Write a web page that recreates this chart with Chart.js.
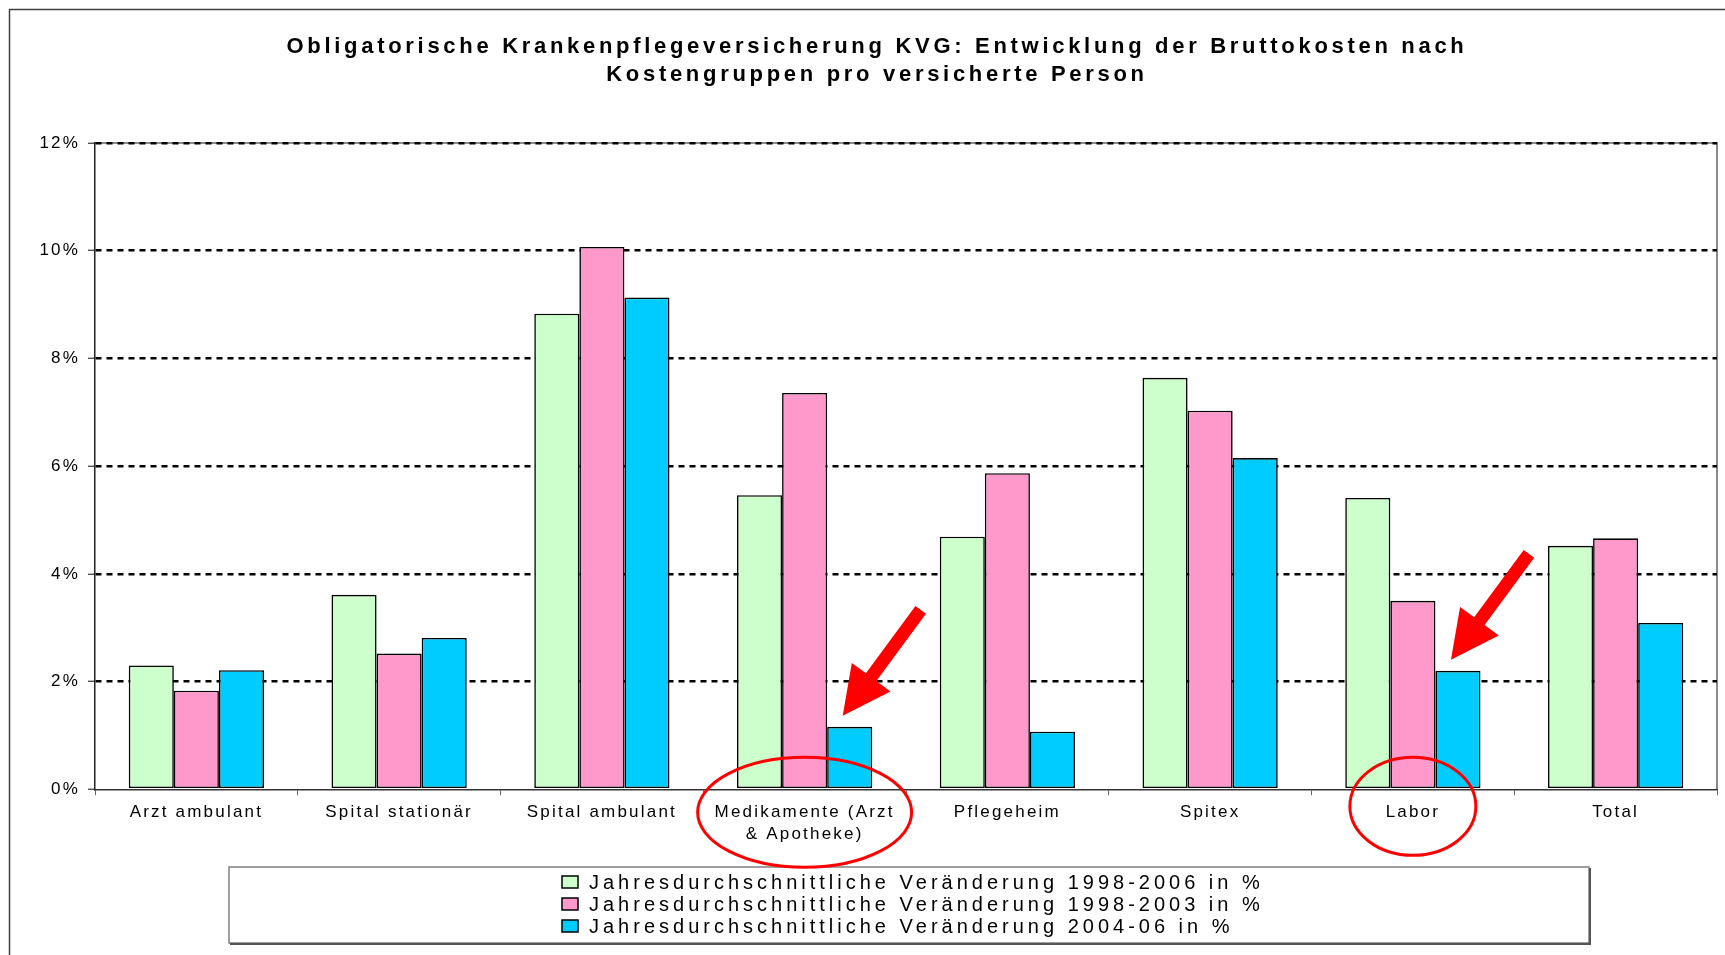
<!DOCTYPE html>
<html>
<head>
<meta charset="utf-8">
<script src="https://cdn.jsdelivr.net/npm/chart.js@4"></script>
<style>
  html, body { margin: 0; padding: 0; background: #fff; }
  #wrap { width: 1725px; height: 955px; }
</style>
</head>
<body>
<div id="wrap"><canvas id="kvgChart" width="1725" height="955"></canvas></div>
<script>
// chart data
const titleLines = [
  'Obligatorische Krankenpflegeversicherung KVG: Entwicklung der Bruttokosten nach',
  'Kostengruppen pro versicherte Person'
];
const categories = [
  'Arzt ambulant', 'Spital stationär', 'Spital ambulant',
  ['Medikamente (Arzt', '& Apotheke)'],
  'Pflegeheim', 'Spitex', 'Labor', 'Total'
];
const seriesNames = [
  'Jahresdurchschnittliche Veränderung 1998-2006 in %',
  'Jahresdurchschnittliche Veränderung 1998-2003 in %',
  'Jahresdurchschnittliche Veränderung 2004-06 in %'
];
const change1998_2006 = [2.30, 3.61, 8.83, 5.46, 4.69, 7.64, 5.41, 4.52];
const change1998_2003 = [1.83, 2.52, 10.07, 7.36, 5.87, 7.03, 3.50, 4.66];
const change2004_06 = [2.21, 2.81, 9.13, 1.16, 1.07, 6.15, 2.20, 3.09];
const yTicks = [0, 2, 4, 6, 8, 10, 12];
// categories marked with a red circle + arrow on the 2004-06 bar
const highlighted = [3, 6];

const seriesColors = ['#CCFFCC', '#FF99CC', '#00CCFF'];
const FONT = '"Liberation Sans", Arial, sans-serif';
Chart.defaults.font.family = FONT;

const frame = {
  id: 'frame',
  beforeDraw(chart) {
    const ctx = chart.ctx;
    const a = chart.chartArea;
    ctx.save();
    ctx.fillStyle = '#fff';
    ctx.fillRect(0, 0, chart.width, chart.height);
    // outer border (only top and left are inside the picture)
    ctx.strokeStyle = '#404040';
    ctx.lineWidth = 1.5;
    ctx.beginPath();
    ctx.moveTo(9.5, chart.height);
    ctx.lineTo(9.5, 9.5);
    ctx.lineTo(chart.width, 9.5);
    ctx.stroke();
    // grey plot area border top / right
    ctx.strokeStyle = '#8a8a8a';
    ctx.lineWidth = 2;
    ctx.beginPath();
    ctx.moveTo(a.left, a.top);
    ctx.lineTo(a.right, a.top);
    ctx.lineTo(a.right, a.bottom);
    ctx.stroke();
    ctx.restore();
    ctx.letterSpacing = '2.2px';
  }
};

function drawArrow(ctx, tipX, tipY, tailX, tailY) {
  const len = Math.hypot(tipX - tailX, tipY - tailY);
  const ux = (tipX - tailX) / len, uy = (tipY - tailY) / len;
  const nx = -uy, ny = ux;
  const headLen = 48, headHalf = 24, shaftHalf = 6.5;
  const bx = tipX - ux * headLen, by = tipY - uy * headLen;
  ctx.beginPath();
  ctx.moveTo(tailX + nx * shaftHalf, tailY + ny * shaftHalf);
  ctx.lineTo(bx + nx * shaftHalf, by + ny * shaftHalf);
  ctx.lineTo(bx + nx * headHalf, by + ny * headHalf);
  ctx.lineTo(tipX, tipY);
  ctx.lineTo(bx - nx * headHalf, by - ny * headHalf);
  ctx.lineTo(bx - nx * shaftHalf, by - ny * shaftHalf);
  ctx.lineTo(tailX - nx * shaftHalf, tailY - ny * shaftHalf);
  ctx.closePath();
  ctx.fill();
}

const extras = {
  id: 'extras',
  afterDraw(chart) {
    const ctx = chart.ctx;
    const a = chart.chartArea;
    const xs = chart.scales.x;
    ctx.save();

    // title
    ctx.fillStyle = '#000';
    ctx.font = 'bold 22px ' + FONT;
    ctx.letterSpacing = '3.7px';
    ctx.textAlign = 'center';
    ctx.textBaseline = 'middle';
    titleLines.forEach((line, i) => ctx.fillText(line, 877, 47 + i * 28));

    // legend box
    const bx = 229, by = 867, bw = 1360, bh = 76;
    ctx.strokeStyle = '#808080';
    ctx.lineWidth = 1.5;
    ctx.strokeRect(bx, by, bw, bh);
    ctx.strokeStyle = '#555';
    ctx.lineWidth = 2;
    ctx.beginPath();
    ctx.moveTo(bx + 1, by + bh + 1);
    ctx.lineTo(bx + bw + 1, by + bh + 1);
    ctx.lineTo(bx + bw + 1, by + 1);
    ctx.stroke();

    ctx.font = '20px ' + FONT;
    ctx.letterSpacing = '4px';
    ctx.textAlign = 'left';
    chart.data.datasets.forEach((ds, i) => {
      const cy = 882 + i * 22;
      ctx.fillStyle = ds.backgroundColor;
      ctx.fillRect(562, cy - 6, 16, 12);
      ctx.strokeStyle = '#000';
      ctx.lineWidth = 1.5;
      ctx.strokeRect(562, cy - 6, 16, 12);
      ctx.fillStyle = '#000';
      ctx.fillText(ds.label, 589, cy + 1);
    });

    // red circles and arrows
    const blueBars = chart.getDatasetMeta(2).data;
    ctx.strokeStyle = '#FF0000';
    ctx.fillStyle = '#FF0000';
    ctx.lineWidth = 3;
    highlighted.forEach(idx => {
      const cx = xs.getPixelForValue(idx);
      const wide = Array.isArray(categories[idx]);
      ctx.beginPath();
      if (wide) ctx.ellipse(cx, a.bottom + 23, 107, 55, 0, 0, Math.PI * 2);
      else ctx.ellipse(cx, a.bottom + 17, 63, 49, 0, 0, Math.PI * 2);
      ctx.stroke();
      const bar = blueBars[idx];
      const tipX = bar.x - 7, tipY = bar.y - 11;
      drawArrow(ctx, tipX, tipY, tipX + 78, tipY - 106);
    });
    ctx.restore();
  }
};

new Chart(document.getElementById('kvgChart'), {
  type: 'bar',
  data: {
    labels: categories,
    datasets: [
      { label: seriesNames[0], data: change1998_2006, backgroundColor: seriesColors[0] },
      { label: seriesNames[1], data: change1998_2003, backgroundColor: seriesColors[1] },
      { label: seriesNames[2], data: change2004_06, backgroundColor: seriesColors[2] }
    ].map(ds => Object.assign(ds, {
      borderColor: '#000',
      borderWidth: 1.6,
      borderSkipped: false,
      barPercentage: 1,
      categoryPercentage: 0.667
    }))
  },
  options: {
    responsive: false,
    animation: false,
    devicePixelRatio: 1,
    layout: { padding: { top: 143, right: 8, left: 0, bottom: 0 } },
    plugins: {
      legend: { display: false },
      title: { display: false },
      tooltip: { enabled: false }
    },
    scales: {
      x: {
        offset: true,
        grid: {
          display: true,
          offset: true,
          drawOnChartArea: false,
          drawTicks: true,
          tickLength: 6,
          tickColor: '#666',
          tickWidth: 1
        },
        border: { display: true, color: '#333', width: 1.5 },
        ticks: {
          color: '#000',
          font: { size: 17, lineHeight: 1.3 },
          padding: 6,
          maxRotation: 0,
          autoSkip: false
        },
        afterFit(scale) { scale.height = 955 - 789.3; }
      },
      y: {
        min: 0,
        max: 12,
        afterBuildTicks(scale) { scale.ticks = yTicks.map(v => ({ value: v })); },
        ticks: {
          callback: v => v + '%',
          color: '#000',
          font: { size: 17 },
          padding: 8
        },
        grid: {
          color: c => (c.tick && c.tick.value === 0) ? 'rgba(0,0,0,0)' : '#000',
          lineWidth: 2.5,
          tickLength: 7,
          tickColor: '#333',
          tickWidth: 1.2,
          tickBorderDash: []
        },
        border: { display: true, color: '#222', width: 1.5, dash: [6, 5] },
        afterFit(scale) { scale.width = 95; }
      }
    }
  },
  plugins: [frame, extras]
});
</script>
</body>
</html>
